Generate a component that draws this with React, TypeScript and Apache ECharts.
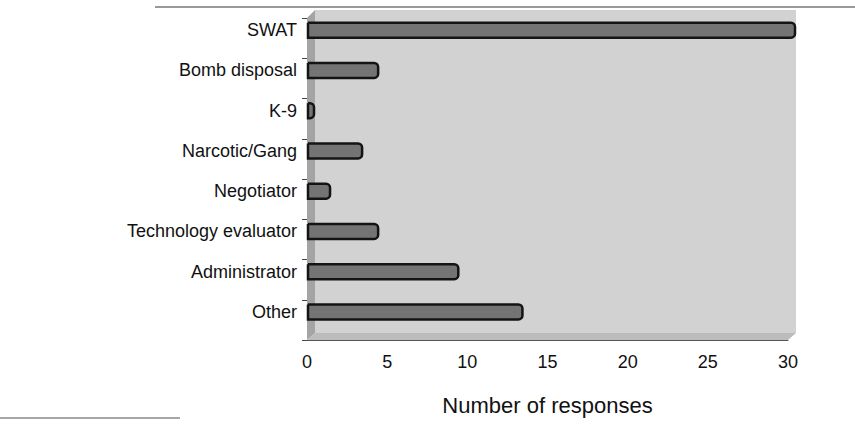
import React, { useEffect, useRef } from "react";
import * as echarts from "echarts";

const categories = [
  "SWAT",
  "Bomb disposal",
  "K-9",
  "Narcotic/Gang",
  "Negotiator",
  "Technology evaluator",
  "Administrator",
  "Other",
];
const responses = [30, 4, 0, 3, 1, 4, 9, 13];
const xTicks = [0, 5, 10, 15, 20, 25, 30];

const FONT = "'Liberation Sans', Arial, Helvetica, sans-serif";

export default function App() {
  const ref = useRef<HTMLDivElement>(null);

  useEffect(() => {
    if (!ref.current) return;
    const chart = echarts.init(ref.current, undefined, { renderer: "svg" });

    const depthX = 7;
    const depthY = 8;

    const option: any = {
      animation: false,
      backgroundColor: "#ffffff",
      grid: { left: 307, right: 67, top: 18, bottom: 84, containLabel: false },
      xAxis: {
        type: "value",
        min: xTicks[0],
        max: xTicks[xTicks.length - 1],
        interval: 5,
        name: "Number of responses",
        nameLocation: "middle",
        nameGap: 54,
        nameTextStyle: { fontFamily: FONT, fontSize: 22, color: "#111" },
        axisLine: { show: true, lineStyle: { color: "#555", width: 1 } },
        axisTick: { show: false },
        splitLine: { show: false },
        axisLabel: {
          margin: 13,
          fontFamily: FONT,
          fontSize: 18,
          color: "#111",
        },
      },
      yAxis: {
        type: "category",
        data: categories,
        inverse: true,
        axisLine: { show: false },
        axisTick: { show: true, length: 5, lineStyle: { color: "#444" } },
        splitLine: { show: false },
        axisLabel: { show: false },
      },
      graphic: [
        {
          type: "line",
          z: 0,
          shape: { x1: 155, y1: 7, x2: 855, y2: 7 },
          style: { stroke: "#777", lineWidth: 1.5 },
        },
        {
          type: "line",
          z: 0,
          shape: { x1: 0, y1: 418, x2: 180, y2: 418 },
          style: { stroke: "#888", lineWidth: 1.5 },
        },
        {
          type: "rect",
          z: 0,
          shape: { x: 315, y: 10, width: 481, height: 323 },
          style: { fill: "#d2d2d2" },
        },
        {
          type: "polygon",
          z: 0,
          shape: {
            points: [
              [307, 18],
              [315, 10],
              [315, 333],
              [307, 340],
            ],
          },
          style: { fill: "#a4a4a4" },
        },
        {
          type: "polygon",
          z: 0,
          shape: {
            points: [
              [307, 340],
              [315, 333],
              [796, 333],
              [788, 340],
            ],
          },
          style: { fill: "#bcbcbc" },
        },
      ],
      series: [
        {
          type: "custom",
          z: 5,
          data: responses.map((v, i) => [v, i]),
          encode: { x: 0, y: 1 },
          clip: false,
          renderItem: (params: any, api: any) => {
            const v = api.value(0);
            const c = api.value(1);
            const start = api.coord([0, c]);
            const end = api.coord([v, c]);
            const h = 15;
            const x0 = start[0] + 1;
            const x1 = end[0] + depthX;
            const y = start[1] - depthY - h / 2;
            return {
              type: "group",
              children: [
                {
                  type: "rect",
                  shape: { x: x0, y, width: Math.max(x1 - x0, 4), height: h, r: [0, 4, 4, 0] },
                  style: { fill: "#747474", stroke: "#141414", lineWidth: 2.5 },
                },
                {
                  type: "text",
                  x: start[0] - 10,
                  y: start[1] - depthY,
                  style: {
                    text: categories[c],
                    textAlign: "right",
                    textVerticalAlign: "middle",
                    fontFamily: FONT,
                    fontSize: 18,
                    fill: "#111",
                  },
                },
              ],
            };
          },
        },
      ],
    };

    chart.setOption(option);
    return () => chart.dispose();
  }, []);

  return (
    <div
      ref={ref}
      style={{ position: "fixed", left: 0, top: 0, width: 855, height: 424 }}
    />
  );
}
